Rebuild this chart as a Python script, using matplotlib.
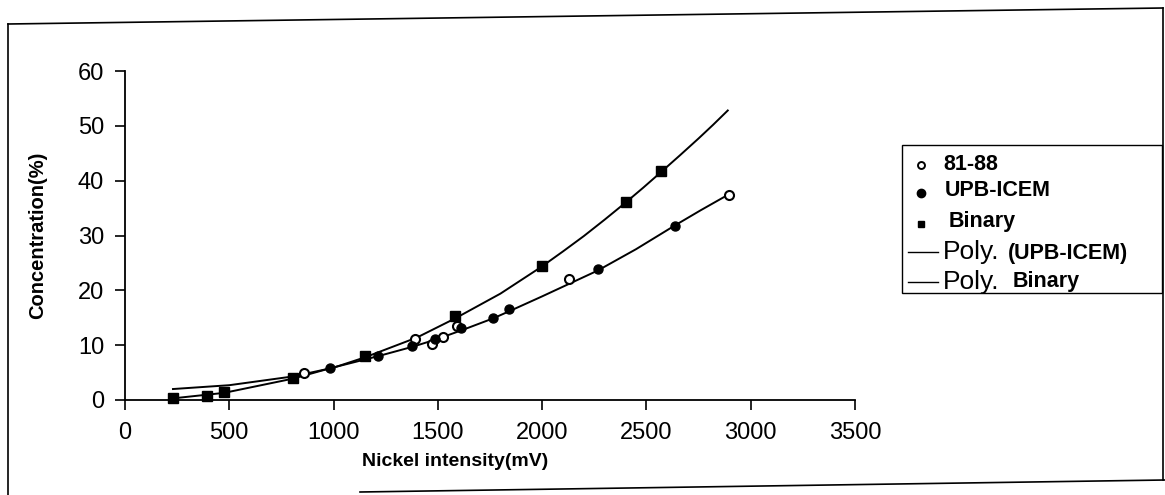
import numpy as np
import matplotlib.pyplot as plt
from matplotlib.lines import Line2D
from matplotlib.patches import Rectangle

plt.rcParams['font.family'] = ['Liberation Sans', 'DejaVu Sans']

# measured points
s8188_x = [859, 1392, 1474, 1526, 1594, 2131, 2894]
s8188_y = [4.9, 11.2, 10.2, 11.4, 13.5, 22.0, 37.3]

upb_x = [985, 1214, 1378, 1488, 1613, 1766, 1843, 2266, 2635]
upb_y = [5.8, 8.0, 9.9, 11.1, 13.2, 15.0, 16.6, 23.8, 31.8]

bin_x = [230, 394, 475, 806, 1152, 1584, 1997, 2400, 2568]
bin_y = [0.3, 0.7, 1.5, 4.0, 8.0, 15.4, 24.5, 36.2, 41.7]

# polynomial trend lines
upb_fit_x = [230, 475, 806, 985, 1214, 1378, 1488, 1613, 1766, 1843, 2000, 2266, 2450, 2635, 2760, 2890]
upb_fit_y = [0.3, 1.3, 3.9, 5.8, 8.0, 9.7, 11.0, 12.7, 14.9, 16.2, 18.9, 23.6, 27.5, 31.8, 34.6, 37.4]

bin_fit_x = [230, 500, 806, 1000, 1152, 1400, 1584, 1800, 1997, 2100, 2200, 2300, 2400, 2484,
             2568, 2660, 2750, 2820, 2890]
bin_fit_y = [2.0, 2.7, 4.3, 5.9, 7.8, 11.4, 14.9, 19.4, 24.3, 27.1, 29.9, 32.9, 36.0, 38.7,
             41.5, 44.6, 47.7, 50.2, 52.8]

xticks = [0, 500, 1000, 1500, 2000, 2500, 3000, 3500]
yticks = [0, 10, 20, 30, 40, 50, 60]

W, H = 1165, 495
fig = plt.figure(figsize=(W / 100, H / 100), dpi=100)
ax = fig.add_axes([125 / W, 1 - 400 / H, 730 / W, 329 / H])


def px(x, y):
    # pixel position -> figure fraction
    return x / W, 1 - y / H


lw = 1.4
ax.plot(upb_fit_x, upb_fit_y, color='black', lw=lw, clip_on=False)
ax.plot(bin_fit_x, bin_fit_y, color='black', lw=lw, clip_on=False)

ax.plot(s8188_x, s8188_y, 'o', mfc='white', mec='black', mew=1.5, ms=6.5, clip_on=False, zorder=3)
ax.plot(upb_x, upb_y, 'o', color='black', ms=6.5, clip_on=False, zorder=3)
ax.plot(bin_x, bin_y, 's', color='black', ms=6.5, clip_on=False, zorder=3)

ax.set_xlim(0, 3500)
ax.set_ylim(0, 60)
ax.set_xticks(xticks)
ax.set_yticks(yticks)
ax.tick_params(axis='x', direction='out', length=7, width=1.2, pad=9, labelsize=17)
ax.tick_params(axis='y', direction='out', length=7, width=1.2, pad=8, labelsize=17)
for side in ['top', 'right']:
    ax.spines[side].set_visible(False)
for side in ['left', 'bottom']:
    ax.spines[side].set_linewidth(1.3)

ax.set_xlabel('Nickel intensity(mV)', fontsize=14, fontweight='bold')
ax.xaxis.set_label_coords((455 - 125) / 730, -0.16)
ax.set_ylabel('Concentration(%)', fontsize=14.5, fontweight='bold')
ax.yaxis.set_label_coords(-(125 - 47) / 730, 0.5)

# legend box drawn by hand so the labels can mix font sizes
x0, y0 = px(902, 293)
x1, y1 = px(1162, 145)
fig.add_artist(Rectangle((x0, y0), x1 - x0, y1 - y0, transform=fig.transFigure,
                         fill=False, ec='black', lw=1.0))

rows = [165, 191, 222, 252, 282]
mx = 921
fig.add_artist(Line2D([px(mx, 0)[0]], [px(0, rows[0])[1]], marker='o', mfc='white', mec='black',
                      mew=1.4, ms=5, transform=fig.transFigure))
fig.add_artist(Line2D([px(mx, 0)[0]], [px(0, rows[1] + 2)[1]], marker='o', color='black',
                      ms=6, transform=fig.transFigure))
fig.add_artist(Line2D([px(mx, 0)[0]], [px(0, rows[2] + 2)[1]], marker='s', color='black',
                      ms=5, transform=fig.transFigure))
for r in rows[3:]:
    fig.add_artist(Line2D([px(908, 0)[0], px(938, 0)[0]], [px(0, r)[1]] * 2,
                          color='black', lw=1.0, transform=fig.transFigure))

fig.text(*px(943, rows[0]), '81-88', fontsize=15.5, fontweight='bold', va='center')
fig.text(*px(945, rows[1]), 'UPB-ICEM', fontsize=15.5, fontweight='bold', va='center')
fig.text(*px(949, rows[2]), 'Binary', fontsize=15.5, fontweight='bold', va='center')
fig.text(*px(943, rows[3]), 'Poly.', fontsize=19, va='center')
fig.text(*px(1008, rows[3] + 1), '(UPB-ICEM)', fontsize=15.5, fontweight='bold', va='center')
fig.text(*px(943, rows[4]), 'Poly.', fontsize=19, va='center')
fig.text(*px(1013, rows[4]), 'Binary', fontsize=15.5, fontweight='bold', va='center')

# page frame around the figure
frame = [((8, 24), (1163, 8)), ((8, 24), (8, 495)), ((1163, 8), (1163, 480)),
         ((360, 492), (1165, 480))]
for (xa, ya), (xb, yb) in frame:
    (fx0, fy0), (fx1, fy1) = px(xa, ya), px(xb, yb)
    fig.add_artist(Line2D([fx0, fx1], [fy0, fy1], color='black', lw=1.2,
                          transform=fig.transFigure))

fig.savefig('out.png', dpi=100, facecolor='white')
